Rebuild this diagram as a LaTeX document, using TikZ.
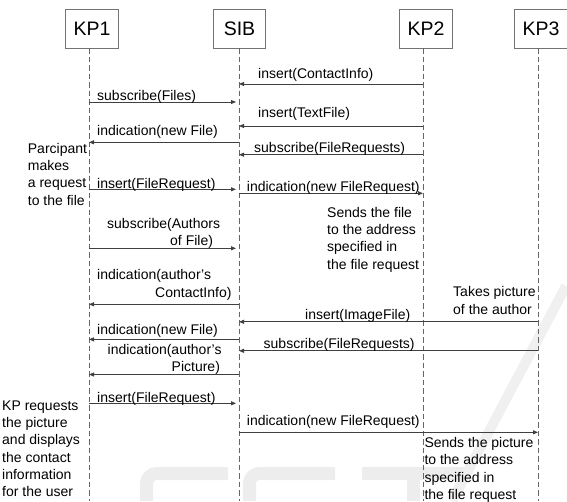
\documentclass[tikz,border=0pt]{standalone}
\usepackage{fontspec}
\setmainfont{Liberation Sans}
\usetikzlibrary{arrows.meta}
\begin{document}
\begin{tikzpicture}[x=1pt,y=-1pt,
  actor/.style={draw=black!55, line width=1pt, fill=white, minimum width=52.5pt,
    minimum height=39pt, inner sep=0pt, font=\fontsize{19.5}{22}\selectfont},
  lifeline/.style={draw=black!60, line width=0.8pt, dash pattern=on 5.5pt off 3pt},
  msg/.style={draw=black!75, line width=0.9pt, -{Triangle[length=5pt,width=4pt]}},
  msgshort/.style={msg, shorten >=3pt},
  % multi-line labels are anchored at the baseline of their last line
  lbl/.style={anchor=base west, inner sep=0pt, font=\fontsize{14}{17.3}\selectfont, align=left},
  wm/.style={draw=black!7, line width=13pt}
]
\useasboundingbox (0,0) rectangle (567,501);

% faint background logo
\draw[wm, rounded corners=10pt] (228,473.5) -- (146.5,473.5) -- (146.5,501);
\draw[wm, rounded corners=10pt] (335,473.5) -- (249.5,473.5) -- (249.5,501);
\draw[wm] (362,473.5) -- (470,473.5);
\draw[wm] (413,480) -- (413,501);
\draw[draw=black!6, line width=10pt] (452,501) -- (566,286);

% participants
\node[actor] (kp1) at (92,28.5) {KP1};
\node[actor] (sib) at (239.5,28.5) {SIB};
\node[actor] (kp2) at (426,28.5) {KP2};
\node[actor] (kp3) at (541,28.5) {KP3};

% lifelines
\coordinate (l1) at (89,48);   \coordinate (l1e) at (89,501);
\coordinate (l2) at (239,48);  \coordinate (l2e) at (239,501);
\coordinate (l3) at (423,48);  \coordinate (l3e) at (423,501);
\coordinate (l4) at (538,48);  \coordinate (l4e) at (538,501);
\draw[lifeline] (l1) -- (l1e);
\draw[lifeline] (l2) -- (l2e);
\draw[lifeline] (l3) -- (l3e);
\draw[lifeline] (l4) -- (l4e);

% messages
\draw[msg]      (l3 |- 0,84)    -- (l2 |- 0,84);
\draw[msgshort] (l1 |- 0,102)   -- (l2 |- 0,102);
\draw[msg]      (l3 |- 0,126)   -- (l2 |- 0,126);
\draw[msg]      (l2 |- 0,142.3) -- (l1 |- 0,142.3);
\draw[msg]      (l3 |- 0,154.7) -- (l2 |- 0,154.7);
\draw[msgshort] (l1 |- 0,189.3) -- (l2 |- 0,189.3);
\draw[msg]      (l2 |- 0,193.3) -- (l3 |- 0,193.3);
\draw[msgshort] (l1 |- 0,248.3) -- (l2 |- 0,248.3);
\draw[msg]      (l2 |- 0,304.3) -- (l1 |- 0,304.3);
\draw[msg]      (l4 |- 0,321.8) -- (l2 |- 0,321.8);
\draw[msg]      (l2 |- 0,339.4) -- (l1 |- 0,339.4);
\draw[msg]      (l4 |- 0,350.8) -- (l2 |- 0,350.8);
\draw[msg]      (l2 |- 0,374.5) -- (l1 |- 0,374.5);
\draw[msgshort] (l1 |- 0,403.3) -- (l2 |- 0,403.3);
\draw[msg]      (l2 |- 0,432.3) -- (l4 |- 0,432.3);

% message labels
\node[lbl] (m1)  at (258,78)    {insert(ContactInfo)};
\node[lbl] (m2)  at (97,100)    {subscribe(Files)};
\node[lbl] (m3)  at (258,117.5) {insert(TextFile)};
\node[lbl] (m4)  at (97,135)    {indication(new File)};
\node[lbl] (m5)  at (254,152.5) {subscribe(FileRequests)};
\node[lbl] (m6)  at (97,188)    {insert(FileRequest)};
\node[lbl] (m7)  at (246.7,191.5) {indication(new FileRequest)};
\node[lbl] (m8)  at (107,245.3) {subscribe(Authors\\\hspace*{63pt}of File)};
\node[lbl] (m9)  at (97,297)    {indication(author's\\\hspace*{58pt}ContactInfo)};
\node[lbl] (m10) at (305,319.3) {insert(ImageFile)};
\node[lbl] (m11) at (97,334)    {indication(new File)};
\node[lbl] (m12) at (263.5,348.7) {subscribe(FileRequests)};
\node[lbl] (m13) at (107.5,371.8) {indication(author's\\\hspace*{64pt}Picture)};
\node[lbl] (m14) at (97,402.3)  {insert(FileRequest)};
\node[lbl] (m15) at (246.7,425.7) {indication(new FileRequest)};

% notes
\node[lbl] (n1) at (27.7,205)   {Parcipant\\makes\\a request\\to the file};
\node[lbl] (n2) at (327,269)    {Sends the file\\to the address\\specified in\\the file request};
\node[lbl] (n3) at (453,314)    {Takes picture\\of the author};
\node[lbl] (n4) at (2,496.7)    {KP requests\\the picture\\and displays\\the contact\\information\\for the user};
\node[lbl] (n5) at (424.3,499.3) {Sends the picture\\to the address\\specified in\\the file request};
\end{tikzpicture}
\end{document}
